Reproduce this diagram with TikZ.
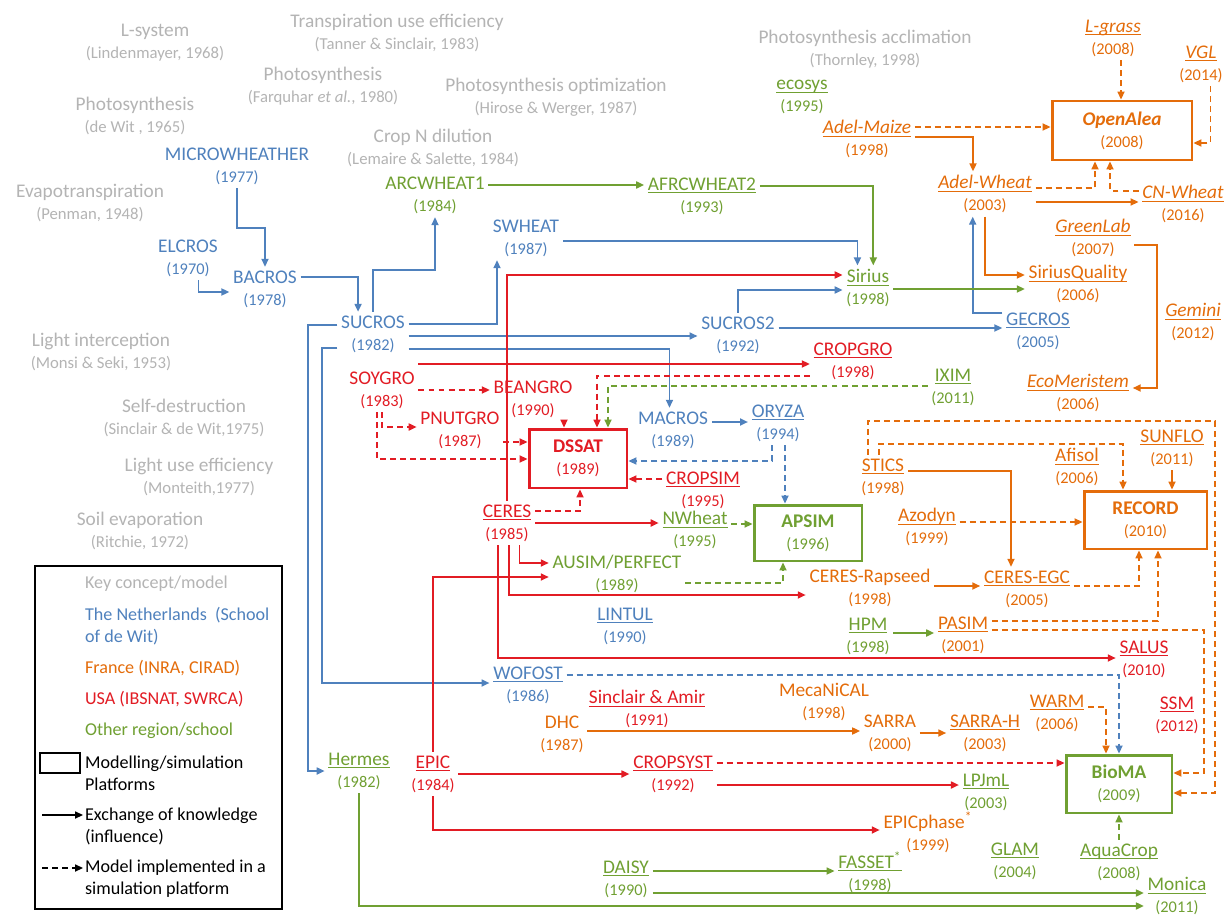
\documentclass[tikz,border=0pt]{standalone}
\usepackage{fontspec}
\setmainfont{Carlito}
\usetikzlibrary{arrows.meta}
\definecolor{nlblue}{RGB}{79,129,189}
\definecolor{frorange}{RGB}{228,108,10}
\definecolor{usred}{RGB}{226,28,36}
\definecolor{otgreen}{RGB}{112,160,50}
\definecolor{cgray}{RGB}{180,180,180}
\newsavebox\undbox
\newcommand\und[1]{\sbox\undbox{#1}\rlap{\rule[-1.8pt]{\wd\undbox}{0.55pt}}\usebox\undbox}
\newcommand\yrs[1]{{\normalfont\fontsize{9.3}{12.5}\selectfont(#1)}}
\newcommand\conref[1]{{\fontsize{9.5}{12.5}\selectfont(#1)}}
\tikzstyle{mdl}=[
        align=center,
        inner sep=2pt,
        font=\fontsize{11}{12.5}\selectfont
]
\tikzstyle{nl}=[mdl, text=nlblue]
\tikzstyle{fr}=[mdl, text=frorange]
\tikzstyle{us}=[mdl, text=usred]
\tikzstyle{ot}=[mdl, text=otgreen]
\tikzstyle{platform}=[
        mdl,
        draw,
        line width=1.7pt,
        font=\bfseries\fontsize{11}{12.5}\selectfont
]
\tikzstyle{concept}=[
        align=center,
        inner sep=1pt,
        text=cgray,
        font=\fontsize{11}{12.5}\selectfont
]
\tikzstyle{legend}=[
        anchor=west,
        align=left,
        inner sep=1pt,
        font=\fontsize{10.3}{12.5}\selectfont
]
\tikzstyle{link}=[
        line width=0.9pt,
        -{Triangle[length=4.5pt,width=4pt]}
]
\tikzstyle{impl}=[
        link,
        dash pattern=on 3.4pt off 2.3pt
]

\begin{document}
\begin{tikzpicture}[x=0.02cm,y=-0.02cm]
    \fill[white] (0,0) rectangle (1228,915);

    % key concepts
    \node[concept] (lsys) at (155,43) {L-system\\\conref{Lindenmayer, 1968}};
    \node[concept] (tue) at (397,33) {Transpiration use efficiency\\\conref{Tanner \& Sinclair, 1983}};
    \node[concept] (phfq) at (323,86) {Photosynthesis\\\conref{Farquhar \textit{et al.}, 1980}};
    \node[concept] (phdw) at (135,116) {Photosynthesis\\\conref{de Wit , 1965}};
    \node[concept] (phopt) at (556,97) {Photosynthesis optimization\\\conref{Hirose \& Werger, 1987}};
    \node[concept] (cndil) at (433,148) {Crop N dilution\\\conref{Lemaire \& Salette, 1984}};
    \node[concept] (phacc) at (865,49) {Photosynthesis acclimation\\\conref{Thornley, 1998}};
    \node[concept] (evap) at (90,203) {Evapotranspiration\\\conref{Penman, 1948}};
    \node[concept] (light) at (101,352) {Light interception\\\conref{Monsi \& Seki, 1953}};
    \node[concept] (selfd) at (184,418) {Self-destruction\\\conref{Sinclair \& de Wit,1975}};
    \node[concept] (lue) at (199,477) {Light use efficiency\\\conref{Monteith,1977}};
    \node[concept] (soilev) at (140,531) {Soil evaporation\\\conref{Ritchie, 1972}};

    % the Netherlands
    \node[nl] (microwheather) at (237,166) {MICROWHEATHER\\\yrs{1977}};
    \node[nl] (elcros) at (188,258) {ELCROS\\\yrs{1970}};
    \node[nl] (bacros) at (265,289) {BACROS\\\yrs{1978}};
    \node[nl] (sucros) at (373,334) {SUCROS\\\yrs{1982}};
    \node[nl] (swheat) at (526,238) {SWHEAT\\\yrs{1987}};
    \node[nl] (sucros2) at (738,335) {SUCROS2\\\yrs{1992}};
    \node[nl] (gecros) at (1038,331) {\und{GECROS}\\\yrs{2005}};
    \node[nl] (macros) at (673,430) {MACROS\\\yrs{1989}};
    \node[nl] (oryza) at (778,423) {\und{ORYZA}\\\yrs{1994}};
    \node[nl] (lintul) at (625,626) {\und{LINTUL}\\\yrs{1990}};
    \node[nl] (wofost) at (528,685) {\und{WOFOST}\\\yrs{1986}};

    % other regions
    \node[ot] (arcwheat1) at (435,195) {ARCWHEAT1\\\yrs{1984}};
    \node[ot] (afrcwheat2) at (702,196) {\und{AFRCWHEAT2}\\\yrs{1993}};
    \node[ot] (sirius) at (868,288) {\und{Sirius}\\\yrs{1998}};
    \node[ot] (ecosys) at (802,97) {\und{ecosys}\\\yrs{1995}};
    \node[ot] (ixim) at (953,387) {\und{IXIM}\\\yrs{2011}};
    \node[ot] (nwheat) at (695,530) {\und{NWheat}\\\yrs{1995}};
    \node[ot] (ausim) at (617,574) {AUSIM/PERFECT\\\yrs{1989}};
    \node[ot] (hpm) at (868,636) {\und{HPM}\\\yrs{1998}};
    \node[ot] (hermes) at (359,771) {\und{Hermes}\\\yrs{1982}};
    \node[ot] (lpjml) at (986,792) {\und{LPJmL}\\\yrs{2003}};
    \node[ot] (daisy) at (626,879) {\und{DAISY}\\\yrs{1990}};
    \node[ot] (fasset) at (870,872) {\und{FASSET\textsuperscript{*}}\\\yrs{1998}};
    \node[ot] (glam) at (1015,861) {\und{GLAM}\\\yrs{2004}};
    \node[ot] (aquacrop) at (1119,862) {\und{AquaCrop}\\\yrs{2008}};
    \node[ot] (monica) at (1177,896) {\und{Monica}\\\yrs{2011}};

    % USA
    \node[us] (soygro) at (382,390) {SOYGRO\\\yrs{1983}};
    \node[us] (beangro) at (533,399) {BEANGRO\\\yrs{1990}};
    \node[us] (pnutgro) at (460,430) {PNUTGRO\\\yrs{1987}};
    \node[us] (cropsim) at (703,490) {\und{CROPSIM}\\\yrs{1995}};
    \node[us] (ceres) at (507,523) {\und{CERES}\\\yrs{1985}};
    \node[us] (cropgro) at (853,361) {\und{CROPGRO}\\\yrs{1998}};
    \node[us] (salus) at (1144,659) {\und{SALUS}\\\yrs{2010}};
    \node[us] (sinclair) at (647,709) {\und{Sinclair \& Amir}\\\yrs{1991}};
    \node[us] (epic) at (433,774) {\und{EPIC}\\\yrs{1984}};
    \node[us] (cropsyst) at (673,774) {\und{CROPSYST}\\\yrs{1992}};
    \node[us] (ssm) at (1177,715) {\und{SSM}\\\yrs{2012}};

    % France
    \node[fr] (lgrass) at (1113,38) {\und{\itshape L-grass}\\\yrs{2008}};
    \node[fr] (vgl) at (1201,64) {\und{\itshape VGL}\\\yrs{2014}};
    \node[fr] (adelmaize) at (867,139) {\und{\itshape Adel-Maize}\\\yrs{1998}};
    \node[fr] (adelwheat) at (985,194) {\und{\itshape Adel-Wheat}\\\yrs{2003}};
    \node[fr] (cnwheat) at (1183,204) {\und{\itshape CN-Wheat}\\\yrs{2016}};
    \node[fr] (greenlab) at (1093,238) {\und{\itshape GreenLab}\\\yrs{2007}};
    \node[fr] (siriusq) at (1078,284) {\und{SiriusQuality}\\\yrs{2006}};
    \node[fr] (gemini) at (1193,322) {\und{\itshape Gemini}\\\yrs{2012}};
    \node[fr] (ecomeristem) at (1078,393) {\und{\itshape EcoMeristem}\\\yrs{2006}};
    \node[fr] (stics) at (883,477) {\und{STICS}\\\yrs{1998}};
    \node[fr] (afisol) at (1077,467) {\und{Afisol}\\\yrs{2006}};
    \node[fr] (sunflo) at (1172,448) {\und{SUNFLO}\\\yrs{2011}};
    \node[fr] (azodyn) at (927,527) {\und{Azodyn}\\\yrs{1999}};
    \node[fr] (cerasrap) at (870,588) {CERES-Rapseed\\\yrs{1998}};
    \node[fr] (ceresegc) at (1027,589) {\und{CERES-EGC}\\\yrs{2005}};
    \node[fr] (pasim) at (963,635) {\und{PASIM}\\\yrs{2001}};
    \node[fr] (mecanical) at (824,702) {MecaNiCAL\\\yrs{1998}};
    \node[fr] (dhc) at (562,734) {DHC\\\yrs{1987}};
    \node[fr] (sarra) at (890,733) {SARRA\\\yrs{2000}};
    \node[fr] (sarrah) at (985,733) {\und{SARRA-H}\\\yrs{2003}};
    \node[fr] (warm) at (1057,713) {\und{WARM}\\\yrs{2006}};
    \node[fr] (epicphase) at (928,832) {EPICphase\textsuperscript{*}\\\yrs{1999}};

    % platforms
    \node[platform, usred, minimum width=1.96cm, minimum height=1.18cm] (dssat) at (578,458.5) {DSSAT\\\yrs{1989}};
    \node[platform, otgreen, minimum width=2.16cm, minimum height=1.12cm] (apsim) at (808,533) {APSIM\\\yrs{1996}};
    \node[platform, frorange, minimum width=2.8cm, minimum height=1.18cm] (openalea) at (1122,130.5) {\textit{OpenAlea}\\\yrs{2008}};
    \node[platform, frorange, minimum width=2.46cm, minimum height=1.16cm] (record) at (1145.5,520) {RECORD\\\yrs{2010}};
    \node[platform, otgreen, minimum width=2.12cm, minimum height=1.16cm] (bioma) at (1119,784) {BioMA\\\yrs{2009}};

    % Netherlands links
    \draw[link, nlblue] (microwheather.south) |- (bacros.north |- 0,228) -- (bacros.north);
    \draw[link, nlblue] ([xshift=6pt]elcros.south) |- (bacros.west |- 0,292);
    \draw[link, nlblue] (bacros.east |- 0,277) -| ([xshift=-8.5pt]sucros.north);
    \draw[link, nlblue] (sucros.north) -- (sucros.north |- 0,270) -| (arcwheat1.south);
    \draw[link, nlblue] (sucros.east |- 0,324) -| ([xshift=-16.5pt]swheat.south);
    \draw[link, nlblue] (sucros.east |- 0,336) -- (sucros2.west |- 0,336);
    \draw[link, nlblue] (sucros.east |- 0,349) -| ([xshift=-2pt]macros.north);
    \draw[link, nlblue] (sucros.west |- 0,325) -- (308,325) |- (hermes.west);
    \draw[link, nlblue] (sucros.west |- 0,348) -- (322,348) |- (wofost.west |- 0,683);
    \draw[link, nlblue] (swheat.east |- 0,241) -| ([xshift=-6pt]sirius.north);
    \draw[link, nlblue] (sucros2.north) |- (sirius.west |- 0,290);
    \draw[link, nlblue] (sucros2.east |- 0,328) -- (gecros.west |- 0,328);
    \draw[link, nlblue] (gecros.west |- 0,313) -| ([xshift=-7pt]adelwheat.south);
    \draw[link, nlblue] (macros.east |- 0,422) -- (oryza.west |- 0,422);
    \draw[impl, nlblue] ([xshift=-3.5pt]oryza.south) |- (dssat.east |- 0,461);
    \draw[impl, nlblue] (oryza.south -| 785,0) -- (apsim.north -| 785,0);
    \draw[impl, nlblue] (wofost.east |- 0,675) -| (bioma.north -| 1119,0);

    % USA links
    \draw[link, usred] (ceres.north) |- (sirius.west |- 0,275);
    \draw[link, usred] (soygro.east |- 0,364) -- (cropgro.west |- 0,364);
    \draw[link, usred] (ceres.east) -- (nwheat.west |- ceres.east);
    \draw[link, usred] ([xshift=7pt]ceres.south) |- (ausim.west |- 0,563);
    \draw[link, usred] ([xshift=1pt]ceres.south) |- (cerasrap.west |- 0,595);
    \draw[link, usred] ([xshift=-5pt]ceres.south) |- (salus.west |- 0,658);
    \draw[link, usred] (epic.north) |- (ausim.west |- 0,577);
    \draw[link, usred] (epic.east) -- (cropsyst.west |- epic.east);
    \draw[link, usred] (epic.south) |- (epicphase.west |- 0,830);
    \draw[link, usred] (cropsyst.east |- 0,785) -- (lpjml.west |- 0,785);
    \draw[impl, usred] (soygro.east) -- (beangro.west |- soygro.east);
    \draw[impl, usred] (soygro.south) |- (pnutgro.west |- 0,427);
    \draw[impl, usred] ([xshift=-3pt]soygro.south) |- (dssat.west |- 0,459);
    \draw[impl, usred] (pnutgro.east |- 0,442) -- (dssat.west |- 0,442);
    \draw[impl, usred] (beangro.south -| 564,0) -- (dssat.north -| 564,0);
    \draw[impl, usred] (cropgro.west |- 0,376) -| (dssat.north -| 597,0);
    \draw[impl, usred] (cropsim.west |- 0,479) -- (dssat.east |- 0,479);
    \draw[impl, usred] (ceres.east |- 0,511) -| (dssat.south -| 580,0);
    \draw[impl, usred] (cropsyst.east |- 0,763) -- (bioma.west |- 0,763);

    % other region links
    \draw[link, otgreen] (arcwheat1.east |- 0,185) -- (afrcwheat2.west |- 0,185);
    \draw[link, otgreen] (afrcwheat2.east |- 0,186) -| ([xshift=3pt]sirius.north);
    \draw[link, otgreen] (sirius.east |- 0,289) -- (siriusq.west |- 0,289);
    \draw[link, otgreen] (hpm.east |- 0,633) -- (pasim.west |- 0,633);
    \draw[link, otgreen] (daisy.east |- 0,871) -- (fasset.west |- 0,871);
    \draw[link, otgreen] (daisy.east |- 0,893) -- (monica.west |- 0,893);
    \draw[link, otgreen] (hermes.south) |- (monica.west |- 0,906);
    \draw[impl, otgreen] (nwheat.east |- 0,524) -- (apsim.west |- 0,524);
    \draw[impl, otgreen] (ausim.east |- 0,583) -| (apsim.south -| 783,0);
    \draw[impl, otgreen] (ixim.west |- 0,386) -| (dssat.north -| 608,0);
    \draw[impl, otgreen] (aquacrop.north) -- (bioma.south -| aquacrop.north);

    % France links
    \draw[impl, frorange] (lgrass.south -| 1121,0) -- (openalea.north -| 1121,0);
    \draw[impl, frorange] ([xshift=5.5pt]vgl.south) |- (openalea.east |- 0,143);
    \draw[impl, frorange] (adelmaize.east |- 0,127) -- (openalea.west |- 0,127);
    \draw[link, frorange] (adelmaize.east |- 0,137) -| (adelwheat.north -| 973,0);
    \draw[impl, frorange] (adelwheat.east |- 0,188) -| (openalea.south -| 1095,0);
    \draw[impl, frorange] (cnwheat.west |- 0,191) -| (openalea.south -| 1110,0);
    \draw[link, frorange] (adelwheat.east |- 0,202) -- (cnwheat.west |- 0,202);
    \draw[link, frorange] (adelwheat.south) |- (siriusq.west |- 0,275);
    \draw[link, frorange] (greenlab.east |- 0,245) -- (1157,245) |- (ecomeristem.east |- 0,388);
    \draw[link, frorange] (stics.east |- 0,471) -| (ceresegc.north -| 1011,0);
    \draw[impl, frorange] (stics.north -| 879,0) |- (1123,444) -- (record.north -| 1123,0);
    \draw[impl, frorange] (stics.north -| 868,0) |- (1215,421) |- (bioma.east |- 0,793);
    \draw[link, frorange] (sunflo.south) -- (record.north -| sunflo.south);
    \draw[impl, frorange] (azodyn.east |- 0,522) -- (record.west |- 0,522);
    \draw[link, frorange] (cerasrap.east |- 0,586) -- (ceresegc.west |- 0,586);
    \draw[impl, frorange] (ceresegc.east |- 0,586) -| (record.south -| 1139,0);
    \draw[impl, frorange] (pasim.east |- 0,621) -| (record.south -| 1158,0);
    \draw[impl, frorange] (pasim.east |- 0,630) -- (1204,630) |- (bioma.east |- 0,773);
    \draw[impl, frorange] (warm.east |- 0,707) -| (bioma.north -| 1106,0);
    \draw[link, frorange] (dhc.east |- 0,731) -- (sarra.west |- 0,731);
    \draw[link, frorange] (sarra.east |- 0,733) -- (sarrah.west |- 0,733);

    % legend
    \draw[line width=1.1pt] (35,566) rectangle (282,909);
    \node[legend, text=cgray] (lkey) at (83,584) {Key concept/model};
    \node[legend, text=nlblue] (lnl) at (83,626) {The Netherlands\ \ (School\\of de Wit)};
    \node[legend, text=frorange] (lfr) at (83,668) {France (INRA, CIRAD)};
    \node[legend, text=usred] (lus) at (83,699) {USA (IBSNAT, SWRCA)};
    \node[legend, text=otgreen] (lot) at (83,731) {Other region/school};
    \node[legend] (lplat) at (83,773) {Modelling/simulation\\Platforms};
    \draw[line width=1.7pt] (40,753) rectangle (80,773);
    \node[legend] (lexch) at (83,826) {Exchange of knowledge\\(influence)};
    \draw[link] (42,815) -- (lexch.west |- 0,815);
    \node[legend] (limpl) at (83,878.5) {Model implemented in a\\simulation platform};
    \draw[impl] (42,868) -- (limpl.west |- 0,868);
\end{tikzpicture}
\end{document}
